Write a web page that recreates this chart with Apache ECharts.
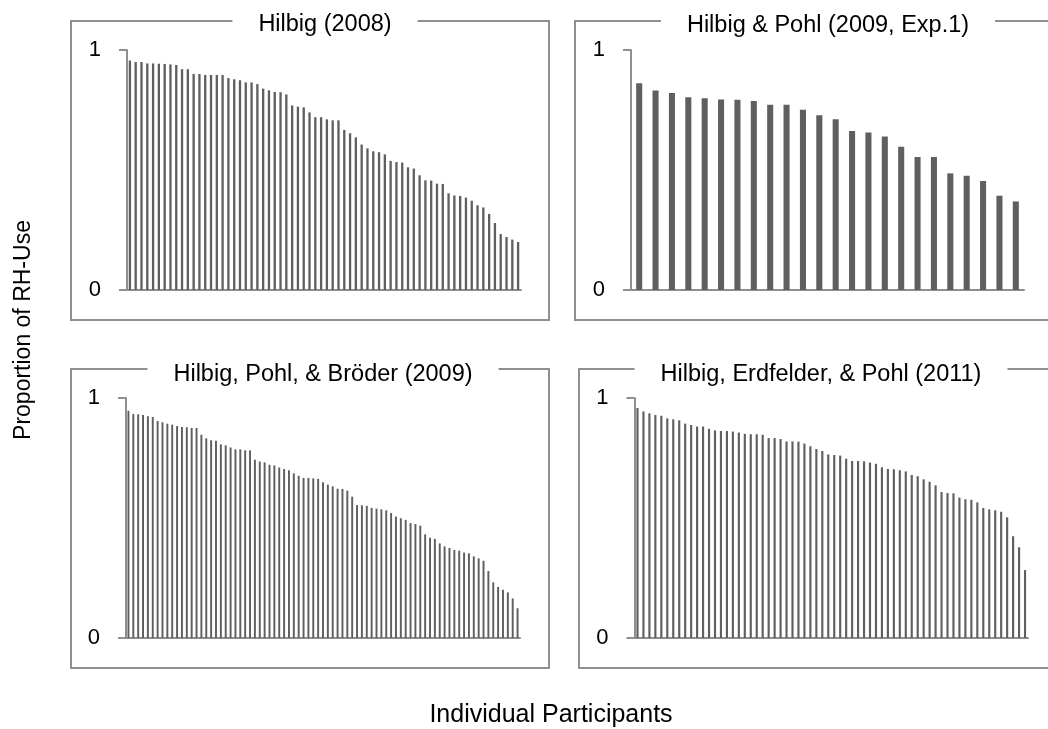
<!DOCTYPE html>
<html>
<head>
<meta charset="utf-8">
<title>Proportion of RH-Use</title>
<script src="https://cdn.jsdelivr.net/npm/echarts@6/dist/echarts.min.js"></script>
<style>
  html, body { margin: 0; padding: 0; background: #fff; }
  #chart { width: 1048px; height: 729px; }
</style>
</head>
<body>
<div id="chart"></div>
<script>
// proportion of RH-use per participant, sorted, one array per study
const hilbig2008 = [0.956, 0.95, 0.95, 0.944, 0.944, 0.943, 0.942, 0.94, 0.9375, 0.92,
  0.92, 0.90, 0.90, 0.896, 0.896, 0.896, 0.896, 0.883, 0.878, 0.874,
  0.865, 0.865, 0.858, 0.839, 0.832, 0.825, 0.824, 0.815, 0.769, 0.764,
  0.761, 0.74, 0.72, 0.72, 0.711, 0.707, 0.707, 0.667, 0.653, 0.636,
  0.606, 0.590, 0.578, 0.574, 0.565, 0.538, 0.533, 0.531, 0.511, 0.506,
  0.478, 0.457, 0.456, 0.443, 0.442, 0.403, 0.394, 0.392, 0.385, 0.372,
  0.353, 0.344, 0.317, 0.279, 0.233, 0.221, 0.210, 0.200]

const hilbigPohl2009 = [0.861, 0.831, 0.821, 0.803, 0.799, 0.794, 0.793, 0.788, 0.772, 0.772,
  0.751, 0.728, 0.711, 0.663, 0.656, 0.640, 0.597, 0.554, 0.554, 0.486,
  0.476, 0.454, 0.393, 0.369]

const hilbigPohlBroeder2009 = [0.947, 0.933, 0.932, 0.929, 0.924, 0.921, 0.904, 0.899, 0.893, 0.889,
  0.883, 0.879, 0.878, 0.875, 0.875, 0.847, 0.832, 0.824, 0.822, 0.807,
  0.803, 0.794, 0.786, 0.786, 0.782, 0.782, 0.743, 0.735, 0.732, 0.722,
  0.719, 0.710, 0.704, 0.699, 0.686, 0.676, 0.667, 0.667, 0.665, 0.663,
  0.649, 0.639, 0.632, 0.622, 0.621, 0.614, 0.589, 0.554, 0.553, 0.551,
  0.542, 0.539, 0.536, 0.532, 0.521, 0.506, 0.499, 0.492, 0.479, 0.475,
  0.468, 0.432, 0.418, 0.413, 0.394, 0.382, 0.375, 0.367, 0.364, 0.356,
  0.353, 0.340, 0.332, 0.322, 0.279, 0.232, 0.2125, 0.201, 0.190, 0.165,
  0.124]

const hilbigErdfelderPohl2011 = [0.958, 0.944, 0.936, 0.929, 0.926, 0.915, 0.911, 0.907, 0.893, 0.8875,
  0.881, 0.881, 0.872, 0.865, 0.8625, 0.8625, 0.860, 0.856, 0.851, 0.849,
  0.849, 0.847, 0.833, 0.833, 0.829, 0.819, 0.819, 0.818, 0.810, 0.799,
  0.7875, 0.779, 0.765, 0.7625, 0.760, 0.747, 0.7375, 0.7375, 0.736, 0.731,
  0.726, 0.711, 0.704, 0.703, 0.699, 0.694, 0.679, 0.674, 0.661, 0.651,
  0.636, 0.608, 0.604, 0.603, 0.585, 0.578, 0.576, 0.565, 0.542, 0.536,
  0.532, 0.526, 0.503, 0.424, 0.378, 0.283]

const panelTitles = ['Hilbig (2008)', 'Hilbig & Pohl (2009, Exp.1)',
  'Hilbig, Pohl, & Bröder (2009)', 'Hilbig, Erdfelder, & Pohl (2011)']
const yTicks = ['0', '1']
const xName = 'Individual Participants'
const yName = 'Proportion of RH-Use'

const FONT = '"Liberation Sans", Arial, sans-serif'
const GREY = '#8f8f8f'
const BAR = '#5f5f5f'

// plot area of each panel (pixels)
const panels = [
  { data: hilbig2008, grid: { left: 127, top: 50, width: 394, height: 240 }, bw: '40%',
    frame: [71, 21, 478, 299], title: [325, 25] },
  { data: hilbigPohl2009, grid: { left: 631, top: 50, width: 393, height: 240 }, bw: '37%',
    frame: [575, 21, 520, 299], title: [828, 26] },
  { data: hilbigPohlBroeder2009, grid: { left: 126, top: 398, width: 394, height: 240 }, bw: '40%',
    frame: [71, 369, 478, 299], title: [323, 375] },
  { data: hilbigErdfelderPohl2011, grid: { left: 634.5, top: 398, width: 393.5, height: 240 }, bw: '36%',
    frame: [579, 369, 520, 299], title: [821, 375] }
]

const chart = echarts.init(document.getElementById('chart'), null, { renderer: 'canvas' })

const graphic = []
panels.forEach((p, i) => {
  // border round each panel
  graphic.push({
    type: 'rect', z: 0,
    shape: { x: p.frame[0], y: p.frame[1], width: p.frame[2], height: p.frame[3] },
    style: { fill: 'none', stroke: GREY, lineWidth: 2 }
  })
  // panel title sits on the border line, white box makes the gap
  graphic.push({
    type: 'text', z: 1,
    style: {
      text: panelTitles[i], x: p.title[0], y: p.title[1],
      font: '23.5px ' + FONT, fill: '#000',
      align: 'center', verticalAlign: 'middle',
      backgroundColor: '#fff', padding: [2, 26]
    }
  })
})
// lower titles get cut by the plot area
graphic.push({ type: 'rect', z: 2, shape: { x: 140, y: 386, width: 390, height: 10 }, style: { fill: '#fff' } })
graphic.push({ type: 'rect', z: 2, shape: { x: 645, y: 386, width: 395, height: 10 }, style: { fill: '#fff' } })

// shared axis names
graphic.push({
  type: 'text', z: 1,
  style: { text: xName, x: 551, y: 715, font: '25px ' + FONT, fill: '#000', align: 'center', verticalAlign: 'middle' }
})
graphic.push({
  type: 'text', z: 1, x: 24, y: 330, rotation: Math.PI / 2,
  style: { text: yName, x: 0, y: 0, font: '23px ' + FONT, fill: '#000', align: 'center', verticalAlign: 'middle' }
})

const option = {
  animation: false,
  backgroundColor: '#fff',
  grid: panels.map(p => p.grid),
  xAxis: panels.map((p, i) => ({
    type: 'category',
    gridIndex: i,
    data: p.data.map((v, k) => k + 1),
    axisLine: { lineStyle: { color: GREY, width: 2 } },
    axisTick: { show: false },
    axisLabel: { show: false },
    splitLine: { show: false }
  })),
  yAxis: panels.map((p, i) => ({
    type: 'value',
    gridIndex: i,
    min: 0,
    max: 1,
    interval: 1,
    axisLine: { show: true, lineStyle: { color: GREY, width: 2 } },
    axisTick: { show: true, length: 8, lineStyle: { color: GREY, width: 2 } },
    axisLabel: {
      margin: 26,
      color: '#000',
      fontSize: 22,
      fontFamily: FONT,
      formatter: v => yTicks[v]
    },
    splitLine: { show: false }
  })),
  series: panels.map((p, i) => ({
    type: 'bar',
    xAxisIndex: i,
    yAxisIndex: i,
    data: p.data,
    barWidth: p.bw,
    itemStyle: { color: BAR }
  })),
  graphic: graphic
}

chart.setOption(option)
</script>
</body>
</html>
